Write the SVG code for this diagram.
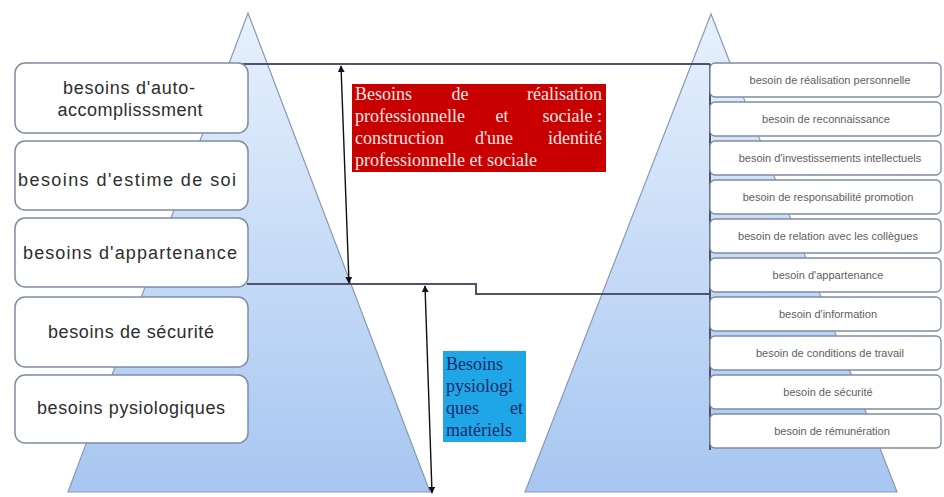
<svg xmlns="http://www.w3.org/2000/svg" width="944" height="497" viewBox="0 0 944 497">
<style>
.tri{stroke:#8a9ab3;stroke-width:1.2}
.lb{fill:#ffffff;stroke:#7d8ca3;stroke-width:1.5}
.rb{fill:#ffffff;stroke:#7d8ca3;stroke-width:1.3}
.lt{font-family:"Liberation Sans",Arial,sans-serif;font-size:18px;fill:#2e2e2e;text-anchor:middle}
.rt{font-family:"Liberation Sans",Arial,sans-serif;font-size:11px;fill:#606060;text-anchor:middle}
.red{font-family:"Liberation Serif","Times New Roman",serif;font-size:18px;fill:#fbe6e6}
.blu{font-family:"Liberation Serif","Times New Roman",serif;font-size:18px;fill:#1b2a6b}
.ln{fill:none;stroke:#4e5568;stroke-width:2}
.ar{fill:none;stroke:#111;stroke-width:1.4;marker-start:url(#ah);marker-end:url(#ah)}
</style>
<defs>
<linearGradient id="g" gradientUnits="userSpaceOnUse" x1="0" y1="13" x2="0" y2="492">
<stop offset="0" stop-color="#e8f1fd"/>
<stop offset="1" stop-color="#a7c6f1"/>
</linearGradient>
<marker id="ah" viewBox="0 0 10 10" refX="9" refY="5" markerWidth="7" markerHeight="7" orient="auto-start-reverse" markerUnits="userSpaceOnUse">
<path d="M0,0 L10,5 L0,10 z" fill="#111"/>
</marker>
</defs>
<rect width="944" height="497" fill="#ffffff"/>
<g id="triangles">
<polygon class="tri" points="248,13 68,492 430,492" fill="url(#g)"/>
<polygon class="tri" points="711,14 525,492 897,492" fill="url(#g)"/>
</g>
<g id="connectors">
<line class="ln" x1="232" y1="64" x2="710" y2="64"/>
<line class="ln" x1="710" y1="64" x2="710" y2="450" stroke-width="1.5"/>
<polyline class="ln" points="247,284 476,284 476,294 710,294"/>
<line class="ar" x1="341" y1="66" x2="349" y2="283"/>
<line class="ar" x1="425" y1="286" x2="432" y2="493"/>
</g>
<g id="left-nodes">
<g id="l1"><rect class="lb" x="15" y="63" width="233" height="70" rx="10"/><text class="lt" x="129" y="94" textLength="132">besoins d'auto-</text><text class="lt" x="130" y="116" textLength="145">accomplisssment</text></g>
<g id="l2"><rect class="lb" x="15" y="141" width="233" height="69" rx="10"/><text class="lt" x="127" y="186" textLength="218">besoins d'estime de soi</text></g>
<g id="l3"><rect class="lb" x="15" y="218" width="233" height="69" rx="10"/><text class="lt" x="130" y="259" textLength="214">besoins d'appartenance</text></g>
<g id="l4"><rect class="lb" x="15" y="297" width="233" height="70" rx="10"/><text class="lt" x="131" y="338" textLength="166">besoins de sécurité</text></g>
<g id="l5"><rect class="lb" x="15" y="375" width="233" height="68" rx="10"/><text class="lt" x="131" y="414" textLength="188">besoins pysiologiques</text></g>
</g>
<g id="right-nodes">
<g id="r1"><rect class="rb" x="710" y="63" width="231" height="34" rx="5"/><text class="rt" x="830" y="84">besoin de réalisation personnelle</text></g>
<g id="r2"><rect class="rb" x="710" y="102" width="231" height="34" rx="5"/><text class="rt" x="826" y="123">besoin de reconnaissance</text></g>
<g id="r3"><rect class="rb" x="710" y="141" width="231" height="34" rx="5"/><text class="rt" x="830" y="162">besoin d'investissements intellectuels</text></g>
<g id="r4"><rect class="rb" x="710" y="180" width="231" height="34" rx="5"/><text class="rt" x="828" y="201">besoin de responsabilité promotion</text></g>
<g id="r5"><rect class="rb" x="710" y="219" width="231" height="34" rx="5"/><text class="rt" x="828" y="240">besoin de relation avec les collègues</text></g>
<g id="r6"><rect class="rb" x="710" y="258" width="231" height="34" rx="5"/><text class="rt" x="828" y="279">besoin d'appartenance</text></g>
<g id="r7"><rect class="rb" x="710" y="297" width="231" height="34" rx="5"/><text class="rt" x="828" y="318">besoin d'information</text></g>
<g id="r8"><rect class="rb" x="710" y="336" width="231" height="34" rx="5"/><text class="rt" x="830" y="357">besoin de conditions de travail</text></g>
<g id="r9"><rect class="rb" x="710" y="375" width="231" height="34" rx="5"/><text class="rt" x="828" y="396">besoin de sécurité</text></g>
<g id="r10"><rect class="rb" x="710" y="414" width="231" height="34" rx="5"/><text class="rt" x="832" y="435">besoin de rémunération</text></g>
</g>
<g id="red-label">
<rect x="352" y="84" width="254" height="88" fill="#c80000"/>
<text class="red" x="355" y="100">Besoins</text><text class="red" x="460" y="100" text-anchor="middle">de</text><text class="red" x="602" y="100" text-anchor="end">réalisation</text>
<text class="red" x="355" y="122">professionnelle</text><text class="red" x="502" y="122" text-anchor="middle">et</text><text class="red" x="602" y="122" text-anchor="end">sociale :</text>
<text class="red" x="355" y="144">construction</text><text class="red" x="494" y="144" text-anchor="middle">d'une</text><text class="red" x="602" y="144" text-anchor="end">identité</text>
<text class="red" x="355" y="166">professionnelle et sociale</text>
</g>
<g id="blue-label">
<rect x="443" y="351" width="83" height="91" fill="#1fa6e6"/>
<text class="blu" x="446" y="370">Besoins</text>
<text class="blu" x="446" y="392">pysiologi</text>
<text class="blu" x="446" y="414">ques</text><text class="blu" x="523" y="414" text-anchor="end">et</text>
<text class="blu" x="446" y="436">matériels</text>
</g>
</svg>
